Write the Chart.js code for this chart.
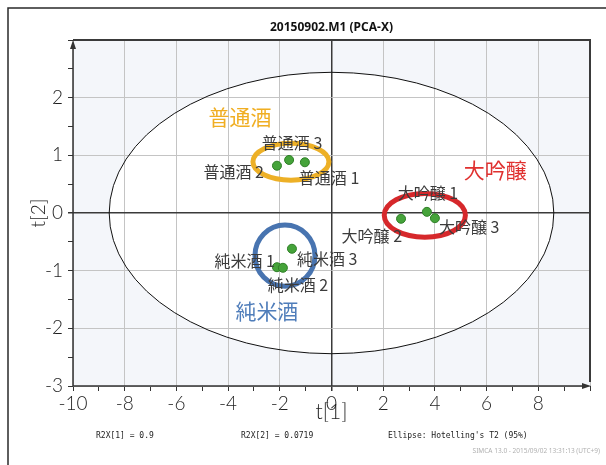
<!DOCTYPE html>
<html>
<head>
<meta charset="utf-8">
<script src="https://cdn.jsdelivr.net/npm/chart.js@4.4.0/dist/chart.umd.min.js"></script>
<style>
  html, body { margin: 0; padding: 0; background: #fff; }
  #wrap { width: 606px; height: 465px; }
</style>
</head>
<body>
<div id="wrap"><canvas id="pca" width="606" height="465"></canvas></div>
<script>
// PCA score values, one entry per sample
const sampleNames = ['普通酒 1', '普通酒 2', '普通酒 3', '大吟醸 1', '大吟醸 2', '大吟醸 3', '純米酒 1', '純米酒 2', '純米酒 3'];
const t1Scores = [-1.03, -2.11, -1.64, 3.69, 2.69, 4.00, -2.11, -1.88, -1.53];
const t2Scores = [0.88, 0.82, 0.92, 0.02, -0.10, -0.09, -0.94, -0.95, -0.62];

// sake groups: ring centre and half-widths in score units
const groupNames = ['普通酒', '大吟醸', '純米酒'];
const groupT1 = [-1.57, 3.61, -1.80];
const groupT2 = [0.89, -0.04, -0.74];
const groupSpreadT1 = [1.47, 1.57, 1.16];
const groupSpreadT2 = [0.32, 0.38, 0.53];

// Hotelling's T2 (95%) ellipse half-axes
const hotellingT1 = 8.6;
const hotellingT2 = 2.44;

const r2x = [0.9, 0.0719];
const modelName = '20150902.M1 (PCA-X)';
const stamp = 'SIMCA 13.0 - 2015/09/02 13:31:13 (UTC+9)';

const JP = '"Noto Sans CJK JP", "Noto Sans", sans-serif';
const THIN = 'Lato, "Noto Sans", sans-serif';

// label placement (pixel nudges from each point) and colours
const sampleLabelNudge = [
  [-6, 16, 'left'], [-13, 6, 'right'], [3, -17, 'center'],
  [1, -19, 'center'], [1, 17, 'right'], [4, 9, 'left'],
  [-2, -6, 'right'], [15, 17, 'center'], [5, 10, 'left']
];
const groupLabelAt = [[-3.54, 1.66], [6.33, 0.75], [-2.5, -1.7]];
const ringColors = ['#EDB026', '#D6282B', '#4874B0'];
const groupTextColors = ['#F0AE22', '#E0302F', '#4F7DBA'];

const ellipse = (ctx, cx, cy, rx, ry) => {
  ctx.beginPath();
  ctx.ellipse(cx, cy, rx, ry, 0, 0, Math.PI * 2);
};

const pcaDecor = {
  id: 'pcaDecor',
  beforeDraw(chart) {
    const { ctx, chartArea: a, scales: { x, y } } = chart;
    ctx.save();
    ctx.fillStyle = '#fff';
    ctx.fillRect(0, 0, chart.width, chart.height);

    // outer frame (top + left edge only)
    ctx.strokeStyle = '#2a2a2a';
    ctx.lineWidth = 1.5;
    ctx.beginPath();
    ctx.moveTo(8, chart.height);
    ctx.lineTo(8, 8);
    ctx.lineTo(chart.width, 8);
    ctx.stroke();

    ctx.fillStyle = '#111';
    ctx.font = 'bold 12px "Noto Sans", sans-serif';
    ctx.textAlign = 'center';
    ctx.textBaseline = 'middle';
    ctx.fillText(modelName, (a.left + a.right) / 2, 28);

    // plot background, white inside the T2 ellipse
    ctx.fillStyle = '#F4F6FA';
    ctx.fillRect(a.left, a.top, a.right - a.left, a.bottom - a.top);
    const cx = x.getPixelForValue(0), cy = y.getPixelForValue(0);
    ellipse(ctx, cx, cy, x.getPixelForValue(hotellingT1) - cx, cy - y.getPixelForValue(hotellingT2));
    ctx.fillStyle = '#fff';
    ctx.fill();

    // footer notes
    ctx.fillStyle = '#222';
    ctx.font = '8px "DejaVu Sans Mono", monospace';
    ctx.textAlign = 'left';
    ctx.fillText('R2X[1] = ' + r2x[0], 96, 436);
    ctx.fillText('R2X[2] = ' + r2x[1], 241, 436);
    ctx.fillText("Ellipse: Hotelling's T2 (95%)", 388, 436);
    ctx.fillStyle = '#b0b0b0';
    ctx.font = '6.5px "Noto Sans", sans-serif';
    ctx.textAlign = 'right';
    ctx.fillText(stamp, 600, 451);
    ctx.restore();
  },
  beforeDatasetsDraw(chart) {
    const { ctx, chartArea: a, scales: { x, y } } = chart;
    ctx.save();
    const cx = x.getPixelForValue(0), cy = y.getPixelForValue(0);
    ellipse(ctx, cx, cy, x.getPixelForValue(hotellingT1) - cx, cy - y.getPixelForValue(hotellingT2));
    ctx.strokeStyle = '#111';
    ctx.lineWidth = 1;
    ctx.stroke();

    // top and right edges
    ctx.strokeStyle = '#3a3a3a';
    ctx.lineWidth = 2;
    ctx.beginPath();
    ctx.moveTo(a.left, a.top);
    ctx.lineTo(a.right, a.top);
    ctx.lineTo(a.right, a.bottom - 4);
    ctx.stroke();

    // axis lines with arrow heads
    ctx.strokeStyle = '#333';
    ctx.fillStyle = '#333';
    ctx.lineWidth = 1.5;
    ctx.beginPath();
    ctx.moveTo(a.left, a.bottom);
    ctx.lineTo(a.left, a.top + 4);
    ctx.moveTo(a.left, a.bottom);
    ctx.lineTo(a.right - 4, a.bottom);
    ctx.stroke();
    ctx.beginPath();
    ctx.moveTo(a.left, a.top);
    ctx.lineTo(a.left - 3, a.top + 9);
    ctx.lineTo(a.left + 3, a.top + 9);
    ctx.closePath();
    ctx.fill();
    ctx.beginPath();
    ctx.moveTo(a.right + 1, a.bottom);
    ctx.lineTo(a.right - 8, a.bottom - 3);
    ctx.lineTo(a.right - 8, a.bottom + 3);
    ctx.closePath();
    ctx.fill();

    // group rings
    ctx.lineWidth = 5;
    groupNames.forEach((g, i) => {
      const gx = x.getPixelForValue(groupT1[i]);
      const gy = y.getPixelForValue(groupT2[i]);
      const rx = x.getPixelForValue(groupT1[i] + groupSpreadT1[i]) - gx;
      const ry = gy - y.getPixelForValue(groupT2[i] + groupSpreadT2[i]);
      ellipse(ctx, gx, gy, rx, ry);
      ctx.strokeStyle = ringColors[i];
      ctx.stroke();
    });
    ctx.restore();
  },
  afterDatasetsDraw(chart) {
    const { ctx, scales: { x, y } } = chart;
    ctx.save();
    ctx.textBaseline = 'middle';
    ctx.font = '16px ' + JP;
    ctx.fillStyle = '#3c3c3c';
    sampleNames.forEach((name, i) => {
      const [dx, dy, align] = sampleLabelNudge[i];
      ctx.textAlign = align;
      ctx.fillText(name, x.getPixelForValue(t1Scores[i]) + dx, y.getPixelForValue(t2Scores[i]) + dy);
    });
    ctx.font = '21px ' + JP;
    ctx.textAlign = 'center';
    groupNames.forEach((g, i) => {
      ctx.fillStyle = groupTextColors[i];
      ctx.fillText(g, x.getPixelForValue(groupLabelAt[i][0]), y.getPixelForValue(groupLabelAt[i][1]));
    });
    ctx.restore();
  }
};

const gridColor = (isMajor) => (c) => {
  const v = c.tick.value;
  if (v === 0) return '#3a3a3a';
  return isMajor(v) ? '#c4c4c4' : 'rgba(0,0,0,0)';
};
const zeroWidth = (c) => (c.tick.value === 0 ? 1.5 : 1);
const tickFont = { family: THIN, size: 19, weight: 300 };

new Chart(document.getElementById('pca'), {
  type: 'scatter',
  data: {
    datasets: [{
      data: t1Scores.map((v, i) => ({ x: v, y: t2Scores[i] })),
      pointRadius: 4.5,
      pointHoverRadius: 4.5,
      backgroundColor: '#45A33A',
      borderColor: '#2F7F27',
      borderWidth: 1
    }]
  },
  options: {
    responsive: false,
    animation: false,
    devicePixelRatio: 1,
    layout: { padding: { left: 0, top: 40, right: 16, bottom: 40 } },
    plugins: { legend: { display: false }, tooltip: { enabled: false } },
    scales: {
      x: {
        type: 'linear',
        min: -10,
        max: 10,
        afterFit: (s) => { s.height = 39; },
        ticks: {
          stepSize: 1,
          autoSkip: false,
          maxRotation: 0,
          padding: 1,
          color: '#1e1e1e',
          font: tickFont,
          callback: (v) => (v % 2 === 0 && v !== 10 ? String(v) : '')
        },
        grid: {
          color: gridColor((v) => v % 2 === 0),
          lineWidth: zeroWidth,
          tickColor: '#333',
          tickLength: 5
        },
        border: { display: false },
        title: {
          display: true,
          text: 't[1]',
          color: '#1e1e1e',
          font: { family: THIN, size: 21, weight: 300 },
          padding: { top: 0, bottom: 0 }
        }
      },
      y: {
        type: 'linear',
        min: -3,
        max: 3,
        afterFit: (s) => { s.width = 73; },
        ticks: {
          stepSize: 0.5,
          autoSkip: false,
          padding: 5,
          color: '#1e1e1e',
          font: tickFont,
          callback: (v) => (Number.isInteger(v) && v !== 3 ? String(v) : '')
        },
        grid: {
          color: gridColor((v) => Number.isInteger(v)),
          lineWidth: zeroWidth,
          tickColor: '#333',
          tickLength: 5
        },
        border: { display: false },
        title: {
          display: true,
          text: 't[2]',
          color: '#1e1e1e',
          font: { family: THIN, size: 19, weight: 300 },
          padding: { top: 27, bottom: 0 }
        }
      }
    }
  },
  plugins: [pcaDecor]
});
</script>
</body>
</html>
